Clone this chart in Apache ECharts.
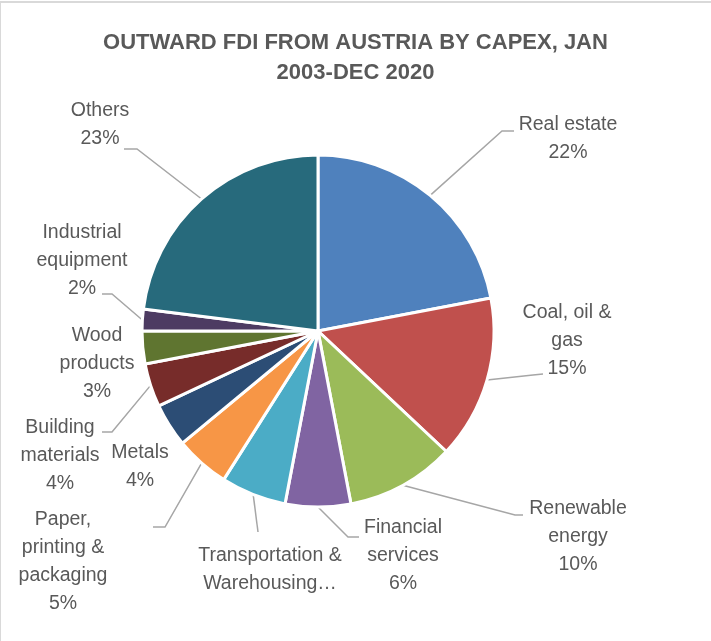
<!DOCTYPE html>
<html>
<head>
<meta charset="utf-8">
<script src="https://cdn.jsdelivr.net/npm/echarts@6/dist/echarts.min.js"></script>
<style>
  html, body { margin: 0; padding: 0; background: #fff; }
  #frame { position: absolute; left: 0; top: 1px; width: 711px; height: 640px;
           border-top: 2px solid #d9d9d9; border-left: 1px solid #d9d9d9; box-sizing: border-box; }
  #main { position: absolute; left: 0; top: 0; width: 711px; height: 641px; }
</style>
</head>
<body>
<div id="frame"></div>
<div id="main"></div>
<script>
// sectors, clockwise from 12 o'clock
var sectors = [
  'Real estate',
  'Coal, oil &\ngas',
  'Renewable\nenergy',
  'Financial\nservices',
  'Transportation &\nWarehousing…',
  'Paper,\nprinting &\npackaging',
  'Metals',
  'Building\nmaterials',
  'Wood\nproducts',
  'Industrial\nequipment',
  'Others'
];
var shares = [22, 15, 10, 6, 6, 5, 4, 4, 3, 2, 23];
var colours = ['#4f81bd', '#c0504d', '#9bbb59', '#8064a2', '#4bacc6', '#f79646',
               '#2c4d75', '#772c2a', '#5f7530', '#4d3b62', '#276a7c'];

// where excel put each label (center of the text block)
var labelSpots = [
  [568, 139], [567, 341], [578, 537], [403, 556], [270, 570], [63, 562],
  [140, 467], [60, 456], [97, 364], [82, 261], [100, 125]
];
// label end of each leader line: [elbow, end], null = no line
var leaderEnds = [
  [[502, 131], [514, 131]],
  [[533, 375], [543, 374]],
  [[515, 515], [523, 515]],
  [[348, 537], [359, 537]],
  [null, [258, 532]],
  [[165, 527], [153, 527]],
  null,
  [[112, 432], [102, 432]],
  null,
  [[112, 294], [102, 294]],
  [[137, 149], [124, 149]]
];

var chart = echarts.init(document.getElementById('main'));

var pieData = [];
for (var i = 0; i < sectors.length; i++) {
  pieData.push({
    name: sectors[i],
    value: shares[i],
    itemStyle: { color: colours[i] },
    labelLine: { show: leaderEnds[i] != null }
  });
}

var font = 'Liberation Sans, Arial, sans-serif';

var option = {
  title: {
    text: 'OUTWARD FDI FROM AUSTRIA BY CAPEX, JAN\n2003-DEC 2020',
    left: 'center',
    top: 23,
    textStyle: {
      fontFamily: font,
      fontSize: 22,
      fontWeight: 'bold',
      color: '#595959',
      lineHeight: 30
    }
  },
  series: [{
    type: 'pie',
    center: [318, 331],
    radius: 176,
    startAngle: 90,
    clockwise: true,
    animation: false,
    itemStyle: { borderColor: '#fff', borderWidth: 3 },
    label: {
      show: true,
      position: 'outside',
      fontFamily: font,
      fontSize: 19.5,
      color: '#595959',
      lineHeight: 28,
      align: 'center',
      formatter: function (p) {
        if (p.name.indexOf('…') >= 0) return p.name;
        return p.name + '\n' + Math.round(p.percent) + '%';
      }
    },
    labelLine: {
      show: true,
      length: 10,
      length2: 10,
      lineStyle: { color: '#a6a6a6', width: 1.5 }
    },
    labelLayout: function (params) {
      var i = params.dataIndex;
      var s = labelSpots[i];
      var res = { x: s[0], y: s[1], align: 'center', verticalAlign: 'middle' };
      var ends = leaderEnds[i];
      if (ends && params.labelLinePoints) {
        var start = params.labelLinePoints[0];
        var pts = [[start[0], start[1]]];
        if (ends[0]) pts.push(ends[0]);
        pts.push(ends[1]);
        if (pts.length == 2) pts.splice(1, 0, ends[1]);
        res.labelLinePoints = pts;
      }
      return res;
    },
    data: pieData
  }]
};

chart.setOption(option);
</script>
</body>
</html>
